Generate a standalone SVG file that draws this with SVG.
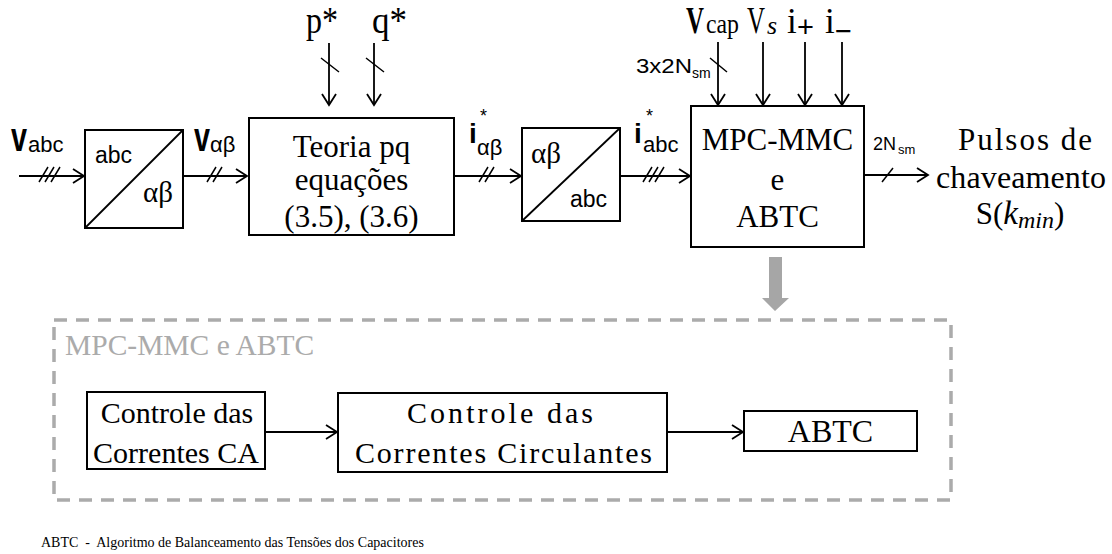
<svg xmlns="http://www.w3.org/2000/svg" width="1112" height="554" viewBox="0 0 1112 554">
<style>
.box{fill:#fff;stroke:#000;stroke-width:2}
.ln{stroke:#000;stroke-width:1.8;fill:none}
.tk{stroke:#000;stroke-width:1.5;fill:none}
.ser{font-family:"Liberation Serif","Times New Roman",serif;fill:#000}
.san{font-family:"Liberation Sans",Arial,sans-serif;fill:#000}
.big{font-size:31px}
.mid{font-size:30px}
.gray{fill:#ababab}
</style>
<defs>
<marker id="ah" markerWidth="14" markerHeight="16" refX="12" refY="8" orient="auto" markerUnits="userSpaceOnUse">
<path d="M1,1 L12,8 L1,15" fill="none" stroke="#000" stroke-width="1.8"/>
</marker>
</defs>
<rect width="1112" height="554" fill="#fff"/>

<g id="connectors">
<line class="ln" x1="19" y1="176" x2="84" y2="176" marker-end="url(#ah)"/>
<line class="ln" x1="183" y1="176" x2="247" y2="176" marker-end="url(#ah)"/>
<line class="ln" x1="454" y1="176" x2="521" y2="176" marker-end="url(#ah)"/>
<line class="ln" x1="620" y1="176" x2="690" y2="176" marker-end="url(#ah)"/>
<line class="ln" x1="864" y1="175" x2="928" y2="175" marker-end="url(#ah)"/>
<line class="ln" x1="329" y1="43" x2="329" y2="105" marker-end="url(#ah)"/>
<line class="ln" x1="374" y1="43" x2="374" y2="105" marker-end="url(#ah)"/>
<line class="ln" x1="718" y1="42" x2="718" y2="105" marker-end="url(#ah)"/>
<line class="ln" x1="763" y1="42" x2="763" y2="105" marker-end="url(#ah)"/>
<line class="ln" x1="805" y1="42" x2="805" y2="105" marker-end="url(#ah)"/>
<line class="ln" x1="842" y1="42" x2="842" y2="105" marker-end="url(#ah)"/>
<line class="ln" x1="265" y1="432" x2="337" y2="432" marker-end="url(#ah)"/>
<line class="ln" x1="667" y1="432" x2="743" y2="432" marker-end="url(#ah)"/>
<path class="tk" d="M39,182 L48,167 M45,182 L54,167 M51,182 L60,167"/>
<path class="tk" d="M207,182 L216,167 M213,182 L222,167"/>
<path class="tk" d="M479,182 L488,167 M485,182 L494,167"/>
<path class="tk" d="M643,182 L652,167 M649,182 L658,167 M655,182 L664,167"/>
<path class="tk" d="M882,182 L893,168"/>
<path class="tk" d="M321,58 L339,72 M366,58 L384,72 M710,58 L727,72"/>
<polygon points="769,257 782,257 782,298 789,298 775,311 762,298 769,298" fill="#a6a6a6"/>
</g>

<g id="labels">
<text class="san" font-weight="bold" font-size="40" transform="translate(11,151) scale(0.72,1)">v</text>
<text class="san" x="28" y="152" font-size="22">abc</text>
<text class="san" font-weight="bold" font-size="40" transform="translate(194,151) scale(0.72,1)">v</text>
<text class="san" x="210" y="152" font-size="22">αβ</text>
<text class="san" x="469" y="143" font-size="28" font-weight="bold">i</text>
<text class="san" x="480" y="122" font-size="18">*</text>
<text class="san" x="477" y="155" font-size="22">αβ</text>
<text class="san" x="634" y="143" font-size="28" font-weight="bold">i</text>
<text class="san" x="646" y="122" font-size="18">*</text>
<text class="san" x="643" y="152" font-size="22">abc</text>
<text class="ser" x="306" y="33" font-size="37" textLength="32" lengthAdjust="spacingAndGlyphs">p*</text>
<text class="ser" x="372" y="33" font-size="37" textLength="35" lengthAdjust="spacingAndGlyphs">q*</text>
<text class="ser" x="686" y="33" font-size="37" font-weight="bold" textLength="18" lengthAdjust="spacingAndGlyphs">V</text>
<text class="ser" x="706" y="33" font-size="27" textLength="33" lengthAdjust="spacingAndGlyphs">cap</text>
<text class="ser" x="747" y="33" font-size="37" textLength="18" lengthAdjust="spacingAndGlyphs">V</text>
<text class="ser" x="767" y="34" font-size="26" font-style="italic">s</text>
<text class="ser" x="787" y="33" font-size="35">i</text>
<text class="san" x="797" y="37" font-size="29">+</text>
<text class="ser" x="825" y="33" font-size="35">i</text>
<text class="san" x="835" y="41" font-size="29">−</text>
<text class="san" x="636" y="73" font-size="20" textLength="56" lengthAdjust="spacingAndGlyphs">3x2N</text>
<text class="san" x="692" y="78" font-size="14">sm</text>
<text class="san" x="873" y="150" font-size="18">2N</text>
<text class="san" x="898" y="154" font-size="13">sm</text>
<g class="ser big" text-anchor="middle">
<text x="1025" y="150" textLength="134" lengthAdjust="spacing">Pulsos de</text>
<text x="1021" y="188" font-size="32" textLength="170" lengthAdjust="spacing">chaveamento</text>
<text x="1020" y="224">S(<tspan font-style="italic" font-size="33">k</tspan><tspan font-style="italic" font-size="24" dy="4">min</tspan><tspan dy="-4">)</tspan></text>
</g>
<text class="ser" x="41" y="547" font-size="14" xml:space="preserve">ABTC  -  Algoritmo de Balanceamento das Tensões dos Capacitores</text>
</g>

<g id="n-abc-ab">
<rect class="box" x="85" y="130" width="98" height="98"/>
<line class="ln" x1="85" y1="228" x2="183" y2="130"/>
<text class="san" x="95" y="163" font-size="23">abc</text>
<text class="ser" x="143" y="202" font-size="29">αβ</text>
</g>

<g id="n-teoria">
<rect class="box" x="249" y="118" width="205" height="117"/>
<g class="ser big" text-anchor="middle">
<text x="351.5" y="157">Teoria pq</text>
<text x="351.5" y="190">equações</text>
<text x="351.5" y="227">(3.5), (3.6)</text>
</g>
</g>

<g id="n-ab-abc">
<rect class="box" x="522" y="128" width="98" height="93"/>
<line class="ln" x1="522" y1="221" x2="620" y2="128"/>
<text class="ser" x="531" y="163" font-size="29">αβ</text>
<text class="san" x="570" y="207" font-size="23">abc</text>
</g>

<g id="n-mpc">
<rect class="box" x="691" y="106" width="173" height="141"/>
<g class="ser big" text-anchor="middle">
<text x="777.5" y="150">MPC-MMC</text>
<text x="777.5" y="190">e</text>
<text x="777.5" y="227">ABTC</text>
</g>
</g>

<g id="n-group">
<rect x="54" y="320" width="897" height="180" fill="none" stroke="#ababab" stroke-width="3.5" stroke-dasharray="13 9"/>
<text class="ser gray" x="65" y="355" font-size="29.5">MPC-MMC e ABTC</text>
</g>

<g id="n-ca">
<rect class="box" x="87" y="392" width="178" height="77"/>
<g class="ser mid" text-anchor="middle">
<text x="177" y="423">Controle das</text>
<text x="176" y="463">Correntes CA</text>
</g>
</g>

<g id="n-circ">
<rect class="box" x="338" y="393" width="329" height="79"/>
<g class="ser mid" text-anchor="middle">
<text x="500" y="423" textLength="186" lengthAdjust="spacing">Controle das</text>
<text x="503.5" y="463" textLength="297" lengthAdjust="spacing">Correntes Circulantes</text>
</g>
</g>

<g id="n-abtc">
<rect class="box" x="744" y="411" width="173" height="40"/>
<text class="ser" x="830.5" y="442" font-size="32" text-anchor="middle">ABTC</text>
</g>
</svg>
